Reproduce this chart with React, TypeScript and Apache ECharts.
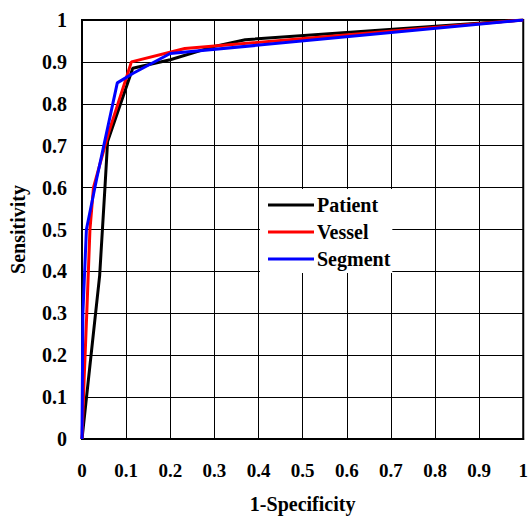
import React, { useEffect, useRef } from "react";
import * as echarts from "echarts";

const seriesNames = ["Patient", "Vessel", "Segment"];
const seriesColors = ["#000000", "#ff0000", "#0000ff"];
const patientPoints: [number, number][] = [
  [0, 0], [0.04, 0.39], [0.052, 0.6], [0.058, 0.71], [0.115, 0.885], [0.2, 0.905], [0.3, 0.937], [0.37, 0.953], [1, 1],
];
const vesselPoints: [number, number][] = [
  [0, 0], [0.005, 0.147], [0.011, 0.305], [0.018, 0.5], [0.026, 0.6], [0.06, 0.73], [0.112, 0.9], [0.233, 0.932], [1, 1],
];
const segmentPoints: [number, number][] = [
  [0, 0], [0.002, 0.3], [0.01, 0.5], [0.033, 0.62], [0.08, 0.85], [0.116, 0.873], [0.2, 0.92], [1, 1],
];
const allSeries = [patientPoints, vesselPoints, segmentPoints];

const FONT = "'Liberation Serif', 'Times New Roman', serif";

export default function App() {
  const ref = useRef<HTMLDivElement>(null);
  useEffect(() => {
    if (!ref.current) return;
    const chart = echarts.init(ref.current, null, { renderer: "svg" });
    const axisCommon = {
      type: "value" as const,
      min: 0,
      max: 1,
      interval: 0.1,
      axisLine: { show: true, lineStyle: { color: "#000", width: 2 } },
      axisTick: { show: true, inside: true, length: 5, lineStyle: { color: "#000" } },
      splitLine: { show: true, lineStyle: { color: "#000", width: 1 } },
      nameTextStyle: { fontFamily: FONT, fontWeight: "bold", fontSize: 20, color: "#000" },
    };
    chart.setOption({
      animation: false,
      backgroundColor: "#fff",
      grid: {
        left: 82, top: 20, width: 443, height: 422,
        show: true, borderColor: "#000", borderWidth: 2, backgroundColor: "transparent",
      },
      xAxis: {
        ...axisCommon,
        name: "1-Specificity",
        nameLocation: "middle",
        nameGap: 55,
        axisLabel: { fontFamily: FONT, fontWeight: "bold", fontSize: 19, color: "#000", margin: 22 },
      },
      yAxis: {
        ...axisCommon,
        name: "Sensitivity",
        nameLocation: "middle",
        nameGap: 54,
        nameRotate: 90,
        axisLabel: { fontFamily: FONT, fontWeight: "bold", fontSize: 20, color: "#000", margin: 15 },
      },
      legend: {
        orient: "vertical",
        left: 260,
        top: 189,
        padding: [6, 2, 4, 8],
        backgroundColor: "#fff",
        itemGap: 7,
        itemWidth: 46,
        itemHeight: 3,
        icon: "rect",
        data: seriesNames,
        textStyle: { fontFamily: FONT, fontWeight: "bold", fontSize: 20, color: "#000", padding: [0, 0, 0, -2] },
      },
      series: allSeries.map((pts, i) => ({
        name: seriesNames[i],
        type: "line",
        data: pts,
        symbol: "none",
        smooth: false,
        lineStyle: { color: seriesColors[i], width: 3 },
        itemStyle: { color: seriesColors[i] },
        z: 3 + i,
      })),
    });
    return () => chart.dispose();
  }, []);
  return <div ref={ref} style={{ width: 531, height: 519, position: "absolute", left: 0, top: 0 }} />;
}
